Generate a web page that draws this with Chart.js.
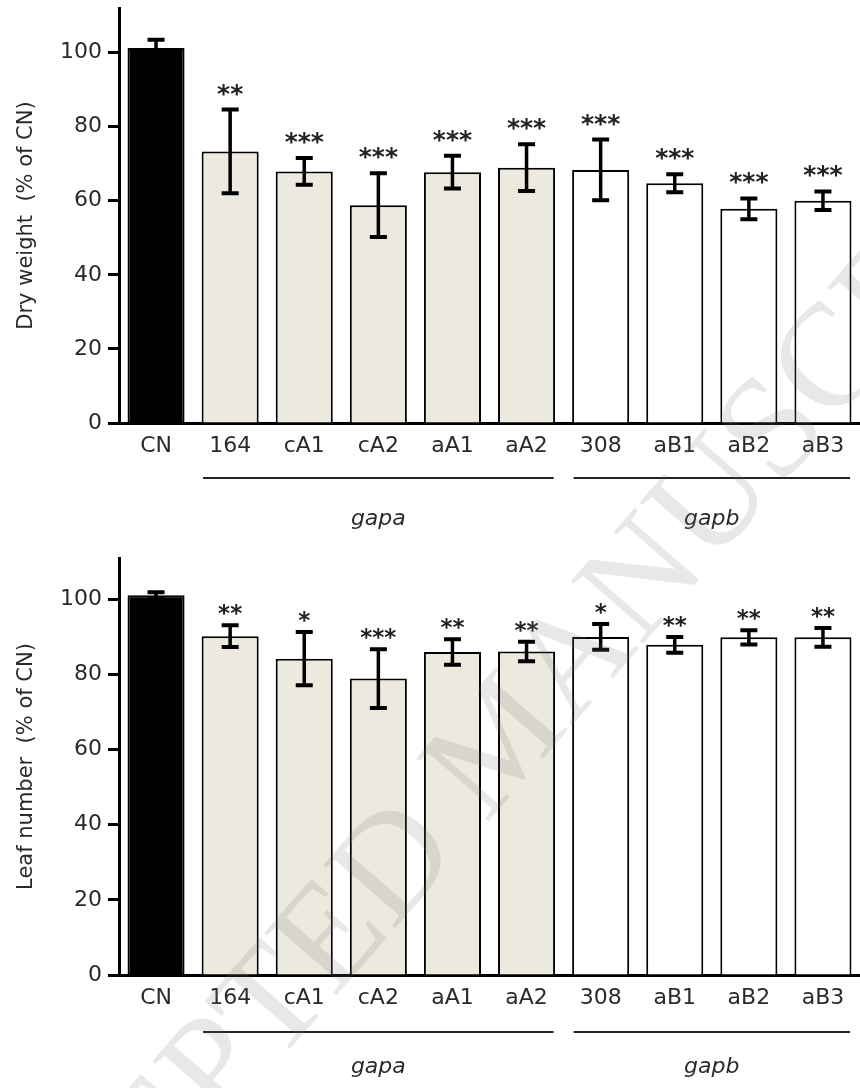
<!DOCTYPE html>
<html>
<head>
<meta charset="utf-8">
<script src="https://cdn.jsdelivr.net/npm/chart.js@4/dist/chart.umd.min.js"></script>
<style>
    html, body { margin: 0; padding: 0; background: #fff; }
    #wrap { position: relative; width: 860px; height: 1088px; }
    #topBox { position: absolute; left: 0; top: 0; }
    #bottomBox { position: absolute; left: 0; top: 548px; }
    #mark { position: absolute; left: 0; top: 0; pointer-events: none; }
</style>
</head>
<body>
<div id="wrap">
    <div id="topBox"><canvas id="dryChart" width="860" height="548"></canvas></div>
    <div id="bottomBox"><canvas id="leafChart" width="860" height="540"></canvas></div>
    <canvas id="mark" width="860" height="1088"></canvas>
</div>
<script>
// lines and genotype groups
const lines = ["CN", "164", "cA1", "cA2", "aA1", "aA2", "308", "aB1", "aB2", "aB3"];
const genotype = ["CN", "gapa", "gapa", "gapa", "gapa", "gapa", "gapb", "gapb", "gapb", "gapb"];

// dry weight (% of CN)
const dryMean = [101.2, 73.3, 67.9, 58.8, 67.7, 68.9, 68.3, 64.7, 57.8, 60.0];
const dryErr = [2.2, 11.3, 3.6, 8.6, 4.4, 6.3, 8.2, 2.4, 2.8, 2.5];
const dryStars = ["", "**", "***", "***", "***", "***", "***", "***", "***", "***"];

// leaf number (% of CN)
const leafMean = [101.1, 90.2, 84.2, 78.9, 86.0, 86.1, 90.0, 87.9, 89.9, 89.9];
const leafErr = [0.8, 2.9, 7.1, 7.8, 3.4, 2.6, 3.4, 2.1, 1.9, 2.5];
const leafStars = ["", "**", "*", "***", "**", "**", "*", "**", "**", "**"];

const yTicks = [0, 20, 40, 60, 80, 100];

const fillFor = { CN: "#000000", gapa: "#ece9de", gapb: "#ffffff" };
const textColor = "#2a2a2a";
const fontFamily = "'DejaVu Sans', Verdana, sans-serif";

// error bars, stars, group lines and names
const extrasPlugin = {
    id: "extras",
    afterDatasetsDraw(chart, args, opts) {
        const { ctx, scales: { y } } = chart;
        const meta = chart.getDatasetMeta(0);
        const values = chart.data.datasets[0].data;
        ctx.save();
        ctx.strokeStyle = "#000";
        ctx.fillStyle = "#222";
        ctx.textAlign = "center";
        ctx.textBaseline = "alphabetic";
        ctx.font = "bold " + opts.starSize + "px " + fontFamily;
        meta.data.forEach((bar, i) => {
            const hi = y.getPixelForValue(values[i] + opts.err[i]);
            const lo = y.getPixelForValue(values[i] - opts.err[i]);
            const cx = bar.x;
            ctx.lineWidth = 3.5;
            ctx.beginPath();
            ctx.moveTo(cx, hi);
            ctx.lineTo(cx, lo);
            ctx.stroke();
            ctx.lineWidth = 4;
            ctx.beginPath();
            ctx.moveTo(cx - 8.5, hi);
            ctx.lineTo(cx + 8.5, hi);
            ctx.moveTo(cx - 8.5, lo);
            ctx.lineTo(cx + 8.5, lo);
            ctx.stroke();
            if (opts.stars[i]) {
                ctx.fillText(opts.stars[i], cx, hi - opts.starGap);
            }
        });
        ctx.restore();
    },
    afterDraw(chart, args, opts) {
        const { ctx, chartArea, scales: { x } } = chart;
        const slot = x.getPixelForValue(1) - x.getPixelForValue(0);
        const names = [...new Set(genotype)].filter((g) => g !== "CN");
        ctx.save();
        ctx.strokeStyle = "#222";
        ctx.lineWidth = 2;
        ctx.fillStyle = textColor;
        ctx.textAlign = "center";
        ctx.textBaseline = "middle";
        ctx.font = "italic 22px " + fontFamily;
        names.forEach((g) => {
            const first = genotype.indexOf(g);
            const last = genotype.lastIndexOf(g);
            const x0 = x.getPixelForValue(first) - slot / 2 + 10;
            const x1 = x.getPixelForValue(last) + slot / 2 - 10;
            const ly = chartArea.bottom + opts.lineOffset;
            ctx.beginPath();
            ctx.moveTo(x0, ly);
            ctx.lineTo(x1, ly);
            ctx.stroke();
            ctx.fillText(g, (x0 + x1) / 2, chartArea.bottom + opts.nameOffset);
        });
        ctx.restore();
    },
};

function makeChart(id, values, errs, stars, title, yMax, padTop, xHeight, starSize, starGap, lineOffset, nameOffset) {
    return new Chart(document.getElementById(id), {
        type: "bar",
        data: {
            labels: lines,
            datasets: [
                {
                    data: values,
                    backgroundColor: genotype.map((g) => fillFor[g]),
                    borderColor: "#000",
                    borderWidth: 2,
                    categoryPercentage: 1,
                    barPercentage: 0.77,
                },
            ],
        },
        options: {
            responsive: false,
            animation: false,
            layout: { padding: { top: padTop, left: 0, right: 0, bottom: 0 } },
            scales: {
                x: {
                    grid: { display: false },
                    border: { display: true, color: "#000", width: 3 },
                    ticks: {
                        color: textColor,
                        font: { family: fontFamily, size: 22 },
                        padding: 2,
                        maxRotation: 0,
                        autoSkip: false,
                    },
                    afterFit(s) {
                        s.height = xHeight;
                        s.paddingLeft = 0;
                        s.paddingRight = 0;
                    },
                },
                y: {
                    min: 0,
                    max: yMax,
                    afterBuildTicks(s) {
                        s.ticks = yTicks.map((v) => ({ value: v }));
                    },
                    grid: {
                        drawOnChartArea: false,
                        drawTicks: true,
                        tickLength: 11,
                        tickWidth: 3,
                        color: "#000",
                    },
                    border: { display: true, color: "#000", width: 3 },
                    ticks: {
                        color: textColor,
                        font: { family: fontFamily, size: 22 },
                        padding: 6,
                    },
                    title: {
                        display: true,
                        text: title,
                        color: textColor,
                        font: { family: fontFamily, size: 21 },
                        padding: { top: 14, bottom: 0 },
                    },
                    afterFit(s) {
                        s.width = 119;
                        s.paddingTop = 0;
                        s.paddingBottom = 0;
                    },
                },
            },
            plugins: {
                legend: { display: false },
                tooltip: { enabled: false },
                extras: {
                    err: errs,
                    stars: stars,
                    starSize: starSize,
                    starGap: starGap,
                    lineOffset: lineOffset,
                    nameOffset: nameOffset,
                },
            },
        },
        plugins: [extrasPlugin],
    });
}

makeChart("dryChart", dryMean, dryErr, dryStars, "Dry weight  (% of CN)", 112, 8, 125, 25, 8, 55, 96);
makeChart("leafChart", leafMean, leafErr, leafStars, "Leaf number  (% of CN)", 111, 10, 113, 23, 4, 57, 92);

// faint diagonal watermark over both panels
(function () {
    const c = document.getElementById("mark");
    const ctx = c.getContext("2d");
    const text = "ACCEPTED MANUSCRIPT";
    ctx.font = "146px 'Liberation Serif', 'DejaVu Serif', serif";
    const w = (s) => ctx.measureText(s).width;
    const pMid = w("ACCE") + w("P") / 2;
    const cMid = w("ACCEPTED MANUS") + w("C") / 2;
    const mid = (pMid + cMid) / 2;
    ctx.save();
    ctx.translate(520, 712);
    ctx.rotate((-48.9 * Math.PI) / 180);
    ctx.fillStyle = "rgba(120,120,120,0.17)";
    ctx.textBaseline = "alphabetic";
    ctx.fillText(text, -mid, 48);
    ctx.restore();
})();
</script>
</body>
</html>
